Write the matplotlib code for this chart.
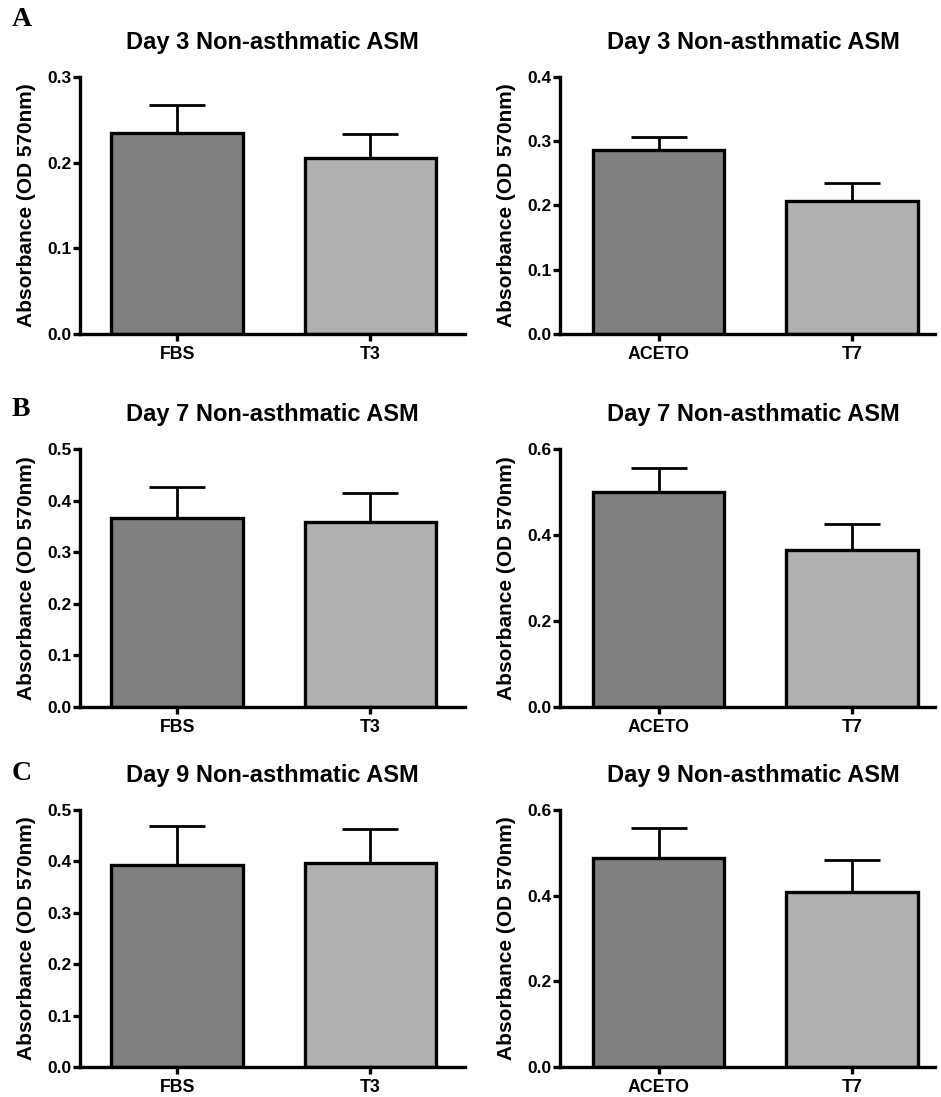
import matplotlib.pyplot as plt

plt.rcParams['font.family'] = ['Liberation Sans', 'DejaVu Sans']
plt.rcParams['font.weight'] = 'bold'

# Data (mean, upper SEM end)
left_labels = ['FBS', 'T3']
right_labels = ['ACETO', 'T7']

day3_left = [0.235, 0.206]
day3_left_top = [0.267, 0.233]
day3_right = [0.287, 0.207]
day3_right_top = [0.306, 0.235]

day7_left = [0.366, 0.358]
day7_left_top = [0.427, 0.414]
day7_right = [0.499, 0.364]
day7_right_top = [0.556, 0.425]

day9_left = [0.393, 0.396]
day9_left_top = [0.468, 0.464]
day9_right = [0.487, 0.408]
day9_right_top = [0.557, 0.483]

titles = ['Day 3 Non-asthmatic ASM', 'Day 7 Non-asthmatic ASM', 'Day 9 Non-asthmatic ASM']
panel_letters = ['A', 'B', 'C']

left_ylim = [0.3, 0.5, 0.5]
left_step = [0.1, 0.1, 0.1]
right_ylim = [0.4, 0.6, 0.6]
right_step = [0.1, 0.2, 0.2]

bar_colors = ['#808080', '#b0b0b0']

W, H = 941, 1097
fig = plt.figure(figsize=(W / 100, H / 100), dpi=100)

# pixel boxes (top, bottom) for each row, (left, right) for each column
rows = [(77, 334), (449, 707), (810, 1067)]
cols = [(80, 465), (560, 935)]
col_xlim = [(-0.503, 1.49), (-0.51, 1.43)]
title_x = [0.5, 0.516]
letter_y = [20, 409, 774]


def draw(ax, labels, vals, tops, ymax, step, title, tx):
    x = range(len(vals))
    errs = [[0] * len(vals), [t - v for t, v in zip(tops, vals)]]
    ax.errorbar(x, vals, yerr=errs, fmt='none', ecolor='black',
                elinewidth=2, capsize=20, capthick=2, zorder=1)
    ax.bar(x, vals, width=0.68, color=bar_colors, edgecolor='black',
           linewidth=2.4, zorder=2)
    ax.set_ylim(0, ymax)
    n = int(round(ymax / step))
    ax.set_yticks([round(i * step, 2) for i in range(n + 1)])
    ax.set_yticklabels(['%.1f' % (i * step) for i in range(n + 1)])
    ax.set_xticks(list(x))
    ax.set_xticklabels(labels)
    for s in ['top', 'right']:
        ax.spines[s].set_visible(False)
    for s in ['left', 'bottom']:
        ax.spines[s].set_linewidth(2.4)
    ax.tick_params(axis='both', width=2.4, length=5)
    ax.tick_params(axis='y', labelsize=12.5, pad=1)
    ax.tick_params(axis='x', labelsize=12.8, pad=4)
    ax.set_ylabel('Absorbance (OD 570nm)', fontsize=15, fontweight='bold', labelpad=8)
    ax.set_title(title, fontsize=17, fontweight='bold', pad=20, x=tx)


data = [
    (day3_left, day3_left_top, day3_right, day3_right_top),
    (day7_left, day7_left_top, day7_right, day7_right_top),
    (day9_left, day9_left_top, day9_right, day9_right_top),
]

for r, (top, bot) in enumerate(rows):
    lv, lt, rv, rt = data[r]
    for c, (x0, x1) in enumerate(cols):
        ax = fig.add_axes([x0 / W, 1 - bot / H, (x1 - x0) / W, (bot - top) / H])
        if c == 0:
            draw(ax, left_labels, lv, lt, left_ylim[r], left_step[r], titles[r], title_x[c])
        else:
            draw(ax, right_labels, rv, rt, right_ylim[r], right_step[r], titles[r], title_x[c])
        ax.set_xlim(*col_xlim[c])
    fig.text(12 / W, 1 - letter_y[r] / H, panel_letters[r], family='Liberation Serif',
             fontsize=20, fontweight='bold', va='center', ha='left')

fig.savefig('out.png', dpi=100)
